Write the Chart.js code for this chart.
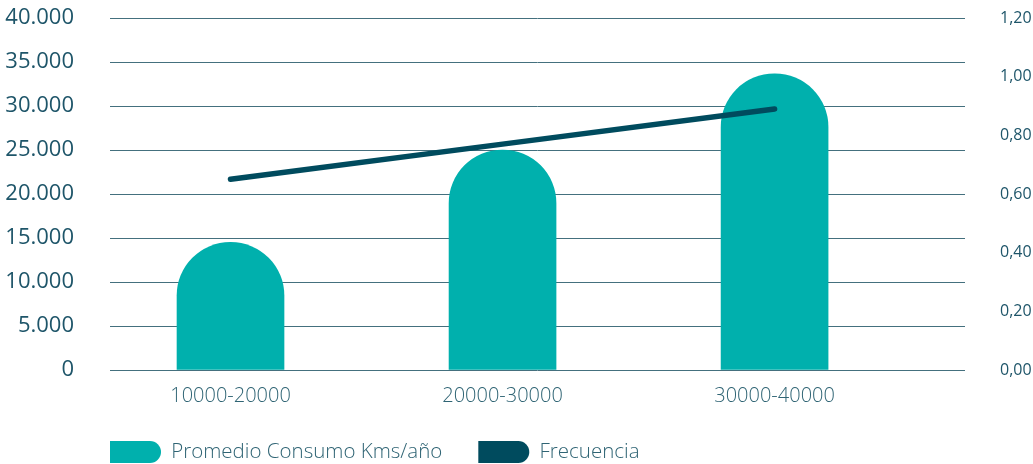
<!DOCTYPE html>
<html>
<head>
<meta charset="utf-8">
<script src="https://cdn.jsdelivr.net/npm/chart.js@4.4.1/dist/chart.umd.min.js"></script>
<style>
  html, body { margin: 0; padding: 0; background: #fff; }
  #wrap { width: 1033px; height: 464px; }
</style>
</head>
<body>
<div id="wrap"><canvas id="consumoChart"></canvas></div>
<script>
// Data
const categories = ["10000-20000", "20000-30000", "30000-40000"];
const consumoKms = [14500, 25000, 33650];
const frecuencia = [0.65, 0.77, 0.89];
const kmTicks = [0, 5000, 10000, 15000, 20000, 25000, 30000, 35000, 40000];
const freqTicks = [0, 0.2, 0.4, 0.6, 0.8, 1.0, 1.2];

const teal = "#00b0ad";
const dark = "#004b5e";
const textColor = "#1e5569";

function miles(v) {
  return String(v).replace(/\B(?=(\d{3})+(?!\d))/g, ".");
}

// moves the legend so it starts under the plot area, like the original
const legendShift = {
  id: "legendShift",
  afterLayout(chart) {
    chart.legend.left += 74;
    chart.legend.right += 74;
  },
};

document.addEventListener("DOMContentLoaded", function () {
  const ctx = document.getElementById("consumoChart").getContext("2d");
  new Chart(ctx, {
    data: {
      datasets: [
        {
          type: "bar",
          label: "Promedio Consumo Kms/año",
          data: consumoKms.map((v, i) => ({ x: i, y: v })),
          backgroundColor: teal,
          borderWidth: 0,
          borderSkipped: false,
          borderRadius: { topLeft: 60, topRight: 60, bottomLeft: 0, bottomRight: 0 },
          barThickness: 107,
          yAxisID: "y",
          order: 2,
        },
        {
          type: "line",
          label: "Frecuencia",
          data: frecuencia.map((v, i) => ({ x: i, y: v })),
          borderColor: dark,
          backgroundColor: dark,
          borderWidth: 5.5,
          borderCapStyle: "round",
          pointRadius: 0,
          tension: 0,
          yAxisID: "y1",
          order: 1,
        },
      ],
    },
    options: {
      responsive: true,
      maintainAspectRatio: false,
      animation: false,
      layout: {
        padding: { top: 18, bottom: -9, left: 0, right: 0 },
      },
      scales: {
        x: {
          type: "linear",
          offset: false,
          min: -0.443,
          max: 2.7,
          grid: { display: false, drawTicks: false },
          border: { display: false },
          afterBuildTicks: (scale) => {
            scale.ticks = categories.map((c, i) => ({ value: i }));
          },
          afterFit: (scale) => {
            scale.height = 35;
            scale.paddingLeft = 0;
            scale.paddingRight = 0;
          },
          ticks: {
            padding: 14,
            maxRotation: 0,
            minRotation: 0,
            autoSkip: false,
            color: "#2f6474",
            font: { family: "Open Sans", size: 20, weight: 300 },
            callback: (v) => categories[v],
          },
        },
        y: {
          position: "left",
          min: 0,
          max: 40000,
          border: { display: false },
          grid: { color: "#44707e", lineWidth: 1, drawTicks: false },
          afterBuildTicks: (scale) => {
            scale.ticks = kmTicks.map((v) => ({ value: v }));
          },
          afterFit: (scale) => {
            scale.width = 110;
            scale.paddingTop = 0;
            scale.paddingBottom = 0;
          },
          ticks: {
            padding: 36,
            color: textColor,
            font: { family: "Open Sans", size: 22, weight: 400 },
            callback: (v) => miles(v),
          },
        },
        y1: {
          position: "right",
          min: 0,
          max: 1.2,
          border: { display: false },
          grid: { display: false, drawTicks: false },
          afterBuildTicks: (scale) => {
            scale.ticks = freqTicks.map((v) => ({ value: v }));
          },
          afterFit: (scale) => {
            scale.width = 68;
            scale.paddingTop = 0;
            scale.paddingBottom = 0;
          },
          ticks: {
            padding: 35,
            color: textColor,
            font: { family: "Open Sans", size: 16, weight: 400 },
            callback: (v) => v.toFixed(2).replace(".", ","),
          },
        },
      },
      plugins: {
        tooltip: { enabled: false },
        legend: {
          position: "bottom",
          align: "start",
          labels: {
            boxWidth: 51,
            boxHeight: 22,
            padding: 36,
            color: "#2f6474",
            font: { family: "Open Sans", size: 20.5, weight: 300 },
            useBorderRadius: true,
            borderRadius: { topLeft: 0, bottomLeft: 0, topRight: 11, bottomRight: 11 },
            sort: (a, b) => a.datasetIndex - b.datasetIndex,
            generateLabels: (chart) =>
              Chart.defaults.plugins.legend.labels
                .generateLabels(chart)
                .map((item) => ({ ...item, lineWidth: 0 })),
          },
        },
      },
    },
    plugins: [legendShift],
  });
});
</script>
</body>
</html>
